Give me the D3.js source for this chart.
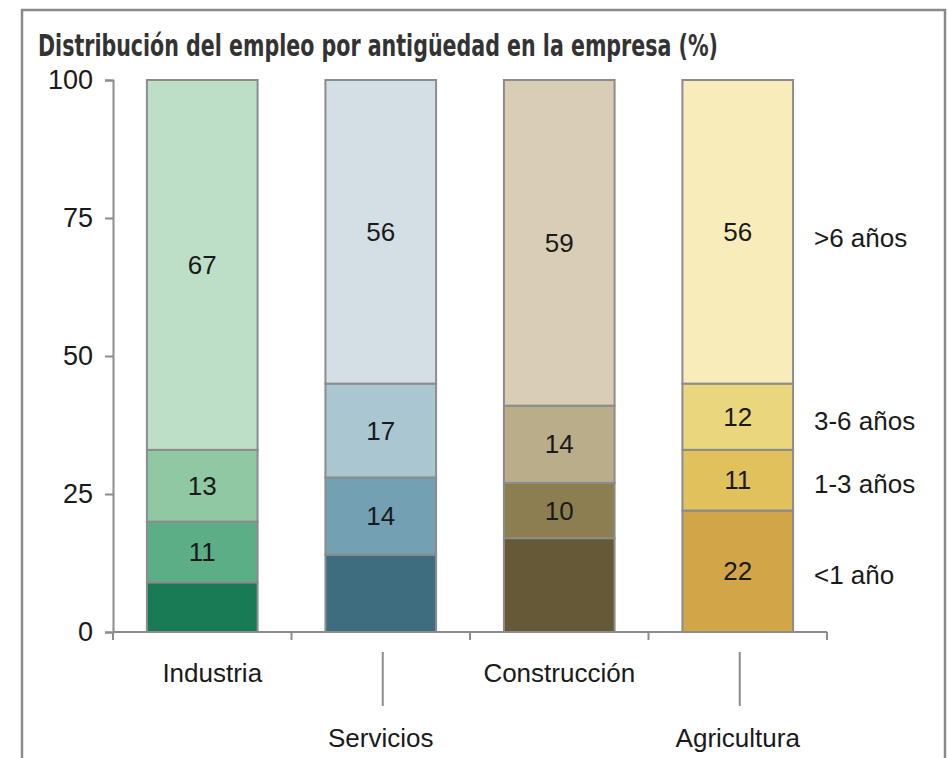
<!DOCTYPE html>
<html>
<head>
<meta charset="utf-8">
<script src="https://cdn.jsdelivr.net/npm/d3@7"></script>
<style>
  body { margin: 0; background: #fff; }
  svg { display: block; font-family: "Liberation Sans", Arial, sans-serif; }
</style>
</head>
<body>
<div class="chart-container"></div>
<script>
const width = 948, height = 758;

// data
var sectors = ["Industria", "Servicios", "Construcción", "Agricultura"];
var groups = ["<1 año", "1-3 años", "3-6 años", ">6 años"];
var menos1 = [9, 14, 17, 22];
var de1a3 = [11, 14, 10, 11];
var de3a6 = [13, 17, 14, 12];
var mas6 = [67, 56, 59, 56];
// which labels are written inside the bars
var showLabel = [[false, true, true, true], [false, true, true, true], [false, true, true, true], [true, true, true, true]];
var yTicks = [0, 25, 50, 75, 100];

var palette = [
    ["#197b56", "#5bae85", "#8fc8a2", "#bddfc7"],
    ["#3d6d7f", "#73a0b3", "#a9c6d1", "#d3dfe5"],
    ["#665937", "#8c7e51", "#b9ad8a", "#d9cdb5"],
    ["#d2a548", "#e1c15b", "#e9d67d", "#f8edba"]
];

var series = [menos1, de1a3, de3a6, mas6];
var fs = 26;
var labelDx = [10, 0, 0, 0];

var svg = d3.select(".chart-container")
    .append("svg")
    .attr("width", width)
    .attr("height", height);

// frame
svg.append("rect")
    .attr("x", 22).attr("y", 10)
    .attr("width", 923).attr("height", 770)
    .attr("fill", "none")
    .attr("stroke", "#8a8a8a")
    .attr("stroke-width", 2.5);

svg.append("text")
    .attr("x", 38).attr("y", 56)
    .attr("font-family", "'Liberation Sans Narrow', 'DejaVu Sans Condensed', sans-serif")
    .attr("font-weight", "bold")
    .attr("font-size", 30)
    .attr("fill", "#333")
    .attr("textLength", 680)
    .attr("lengthAdjust", "spacingAndGlyphs")
    .text("Distribución del empleo por antigüedad en la empresa (%)");

var x = d3.scaleBand().domain(sectors).range([113, 827]).paddingInner(0.38).paddingOuter(0.19);
var y = d3.scaleLinear().domain([0, 100]).range([632, 80]).clamp(true);

// stack the four groups per sector
var rows = sectors.map((s, i) => {
    var r = {sector: s, idx: i};
    groups.forEach((g, k) => r[g] = series[k][i]);
    return r;
});
var stacked = d3.stack().keys(groups)(rows);

var barG = svg.append("g");
stacked.forEach((layer, k) => {
    barG.selectAll(null)
        .data(layer)
        .enter()
        .append("rect")
        .attr("x", d => x(d.data.sector))
        .attr("width", x.bandwidth())
        .attr("y", d => y(d[1]))
        .attr("height", d => y(d[0]) - y(d[1]))
        .attr("fill", d => palette[d.data.idx][k])
        .attr("stroke", "#8c8c8c")
        .attr("stroke-width", 2);

    barG.selectAll(null)
        .data(layer.filter(d => showLabel[d.data.idx][k]))
        .enter()
        .append("text")
        .attr("x", d => x(d.data.sector) + x.bandwidth() / 2)
        .attr("y", d => (y(d[0]) + y(d[1])) / 2)
        .attr("dy", "0.35em")
        .attr("text-anchor", "middle")
        .attr("font-size", fs)
        .attr("fill", "#1a1a1a")
        .text(d => d.data[groups[k]]);
});

// right side labels, aligned with the Agricultura segments
var last = sectors.length - 1;
svg.append("g").selectAll("text")
    .data(stacked)
    .enter()
    .append("text")
    .attr("x", 814)
    .attr("y", (layer, k) => {
        var d = layer[last];
        var mid = (y(d[0]) + y(d[1])) / 2;
        return k == 3 ? mid + 6 : mid + 4;
    })
    .attr("dy", "0.35em")
    .attr("font-size", fs)
    .attr("fill", "#1a1a1a")
    .text(layer => layer.key);

// y axis
var yAxis = svg.append("g")
    .attr("transform", "translate(113,0)")
    .call(d3.axisLeft(y).tickValues(yTicks).tickSize(8).tickPadding(12));
yAxis.selectAll("line").attr("stroke", "#8c8c8c").attr("stroke-width", 2);
yAxis.select(".domain").attr("stroke", "#8c8c8c").attr("stroke-width", 2);
yAxis.selectAll("text").attr("font-size", 27).attr("fill", "#1a1a1a").attr("font-family", "'Liberation Sans', Arial, sans-serif");

// x axis: ticks at band boundaries
var bounds = sectors.map(s => x(s) - x.step() * x.paddingInner() / 2);
bounds[0] = 113;
bounds.push(827);
var xAxis = svg.append("g");
xAxis.append("line")
    .attr("x1", 113).attr("x2", 827)
    .attr("y1", y(0)).attr("y2", y(0))
    .attr("stroke", "#8c8c8c").attr("stroke-width", 2);
xAxis.selectAll(".tick")
    .data(bounds)
    .enter()
    .append("line")
    .attr("x1", d => d).attr("x2", d => d)
    .attr("y1", y(0)).attr("y2", y(0) + 8)
    .attr("stroke", "#8c8c8c").attr("stroke-width", 2);

// category labels, staggered
var catG = svg.append("g");
catG.selectAll("text")
    .data(sectors)
    .enter()
    .append("text")
    .attr("x", (d, i) => x(d) + x.bandwidth() / 2 + labelDx[i])
    .attr("y", (d, i) => i % 2 == 0 ? 673 : 738)
    .attr("dy", "0.35em")
    .attr("text-anchor", "middle")
    .attr("font-size", fs)
    .attr("fill", "#1a1a1a")
    .text(d => d);
catG.selectAll("line")
    .data(sectors.filter((d, i) => i % 2 == 1))
    .enter()
    .append("line")
    .attr("x1", d => x(d) + x.bandwidth() / 2 + 2)
    .attr("x2", d => x(d) + x.bandwidth() / 2 + 2)
    .attr("y1", 652).attr("y2", 706)
    .attr("stroke", "#8c8c8c").attr("stroke-width", 2);
</script>
</body>
</html>
